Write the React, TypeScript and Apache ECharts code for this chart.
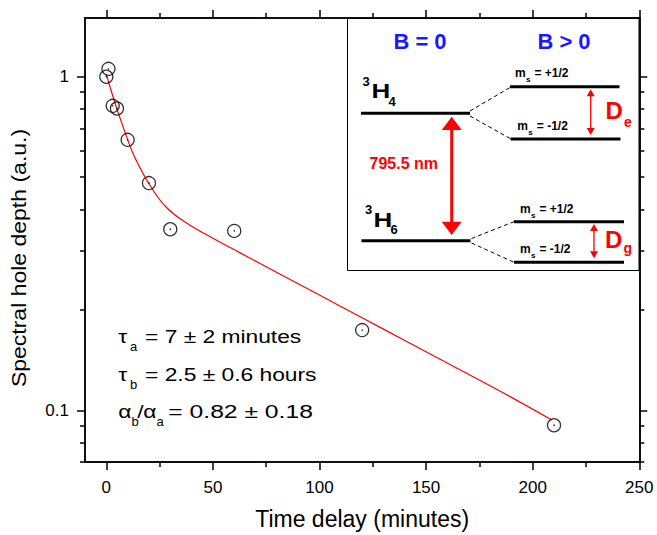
import React, { useEffect, useRef } from 'react';
import * as echarts from 'echarts';

// ---- data ----
const timeMin = [0, 1, 3, 5, 10, 20, 30, 60, 120, 210];
const depth = [1.0, 1.056, 0.818, 0.803, 0.647, 0.48, 0.349, 0.345, 0.174, 0.0902];

const fitTime = [0, 2, 5, 10, 13, 20, 28, 38, 50, 63, 80, 100, 120, 140, 163, 185, 209];
const fitDepth = [1.02, 0.92, 0.8, 0.648, 0.58, 0.478, 0.407, 0.363, 0.328, 0.296, 0.259, 0.2216, 0.1894, 0.162, 0.1353, 0.1139, 0.0936];

const xMajorTicks = [0, 50, 100, 150, 200, 250];
const xMinorTicks = [25, 75, 125, 175, 225];
const yMajorTicks = [0.1, 1];
const yMinorTicks = [0.07, 0.08, 0.09, 0.2, 0.3, 0.4, 0.5, 0.6, 0.7, 0.8, 0.9];

const X_MIN = -10;
const X_MAX = 250;
const Y_MIN = 0.07;
const Y_MAX = 1.5;

const FONT = 'Liberation Sans, Arial, Helvetica, sans-serif';
const BLACK = '#000';
const RED = '#ff0000';
const BLUE = '#1a1aff';

function xAxisDef(position: string, ticks: number[], len: number, withLabels: boolean, extra: any = {}) {
  return {
    type: 'value',
    min: X_MIN,
    max: X_MAX,
    position,
    axisLine: { show: true, onZero: false, lineStyle: { color: BLACK, width: 1.5 } },
    axisTick: { show: true, inside: false, length: len, customValues: ticks, lineStyle: { color: BLACK, width: 1.5 } },
    axisLabel: withLabels
      ? { show: true, customValues: ticks, color: BLACK, fontSize: 17, fontFamily: FONT, margin: 17 }
      : { show: false },
    splitLine: { show: false },
    ...extra,
  };
}

function yAxisDef(position: string, ticks: number[], len: number, withLabels: boolean) {
  return {
    type: 'log',
    logBase: 10,
    min: Y_MIN,
    max: Y_MAX,
    position,
    axisLine: { show: true, onZero: false, lineStyle: { color: BLACK, width: 1.5 } },
    axisTick: { show: true, inside: false, length: len, customValues: ticks, lineStyle: { color: BLACK, width: 1.5 } },
    axisLabel: withLabels
      ? {
          show: true,
          customValues: ticks,
          color: BLACK,
          fontSize: 17,
          fontFamily: FONT,
          margin: 16,
          formatter: (v: number) => (v < 0.5 ? '0.1' : '1'),
        }
      : { show: false },
    splitLine: { show: false },
    minorTick: { show: false },
  };
}

function txt(x: number, y: number, text: string, size: number, color: string, bold: boolean, opts: any = {}) {
  return {
    type: 'text',
    x,
    y,
    z: 100,
    scaleX: opts.scaleX ?? 1,
    rotation: opts.rotation ?? 0,
    style: {
      text,
      fill: color,
      fontSize: size,
      fontFamily: FONT,
      fontWeight: bold ? 'bold' : 'normal',
      align: opts.align ?? 'left',
      verticalAlign: 'middle',
    },
  };
}

function hline(x1: number, x2: number, y: number, w = 3) {
  return {
    type: 'line',
    z: 100,
    shape: { x1, y1: y, x2, y2: y },
    style: { stroke: BLACK, lineWidth: w },
  };
}

function dashed(x1: number, y1: number, x2: number, y2: number) {
  return {
    type: 'line',
    z: 100,
    shape: { x1, y1, x2, y2 },
    style: { stroke: BLACK, lineWidth: 1, lineDash: [4, 3] },
  };
}

function doubleArrow(x: number, yTop: number, yBot: number, headH: number, headW: number, lw: number) {
  return [
    {
      type: 'line',
      z: 100,
      shape: { x1: x, y1: yTop + headH - 1, x2: x, y2: yBot - headH + 1 },
      style: { stroke: RED, lineWidth: lw },
    },
    {
      type: 'polygon',
      z: 100,
      shape: { points: [[x - headW, yTop + headH], [x + headW, yTop + headH], [x, yTop]] },
      style: { fill: RED },
    },
    {
      type: 'polygon',
      z: 100,
      shape: { points: [[x - headW, yBot - headH], [x + headW, yBot - headH], [x, yBot]] },
      style: { fill: RED },
    },
  ];
}

function msLabel(x: number, baseline: number, val: string) {
  return [
    txt(x, baseline - 4.2, 'm', 12, BLACK, true),
    txt(x + 11, baseline + 2.5, 's', 8, BLACK, true),
    txt(x + 19.5, baseline - 4.2, '= ' + val, 12, BLACK, true),
  ];
}

export default function App() {
  const ref = useRef<HTMLDivElement>(null);

  useEffect(() => {
    document.body.style.margin = '0';
    if (!ref.current) return;
    const chart = echarts.init(ref.current, undefined, { renderer: 'svg' });

    const scatterData = timeMin.map((t, i) => [t, depth[i]]);
    const fitData = fitTime.map((t, i) => [t, fitDepth[i]]);

    const annScale = 1.2;
    const graphic: any[] = [
      // inset box
      {
        type: 'rect',
        z: 99,
        shape: { x: 347.5, y: 18.5, width: 291.5, height: 252 },
        style: { fill: '#fff', stroke: BLACK, lineWidth: 1 },
      },
      txt(420, 41.5, 'B = 0', 22, BLUE, true, { align: 'center' }),
      txt(564, 41.5, 'B > 0', 22, BLUE, true, { align: 'center' }),
      // 3H4
      txt(362.5, 81.5, '3', 13, BLACK, true),
      txt(371.5, 91.3, 'H', 20, BLACK, true, { scaleX: 1.3 }),
      txt(388.5, 101.5, '4', 13, BLACK, true),
      // 3H6
      txt(365, 209.5, '3', 13, BLACK, true),
      txt(373.5, 220.3, 'H', 20, BLACK, true, { scaleX: 1.3 }),
      txt(390.5, 229.5, '6', 13, BLACK, true),
      // levels
      hline(361, 470, 113.3),
      hline(361.5, 470.5, 240.7),
      hline(510, 619.5, 86.7),
      hline(510.5, 620.5, 139),
      hline(514, 624, 221.7),
      hline(514, 624, 262.3),
      dashed(470, 111, 510, 87.5),
      dashed(470, 116, 511, 139),
      dashed(471.5, 238.5, 514, 221.7),
      dashed(471.5, 243, 514, 262.3),
      ...doubleArrow(451.7, 116.7, 235, 13.3, 10, 3),
      txt(403.8, 163.3, '795.5 nm', 16, RED, true, { align: 'center' }),
      ...doubleArrow(590.7, 89.3, 135, 7, 4, 1.3),
      ...doubleArrow(594, 224, 258.3, 7, 4, 1.3),
      ...msLabel(515, 76.7, '+1/2'),
      ...msLabel(517.3, 130, '-1/2'),
      ...msLabel(520, 213.3, '+1/2'),
      ...msLabel(520, 253.3, '-1/2'),
      txt(605.5, 110.6, 'D', 24, RED, true),
      txt(624, 121.5, 'e', 14, RED, true),
      txt(605, 239.9, 'D', 24, RED, true),
      txt(623.5, 248.4, 'g', 14, RED, true),
      // annotations
      txt(118.3, 336.6, 'τ', 19, BLACK, false, { scaleX: annScale }),
      txt(130, 346.5, 'a', 13, BLACK, false),
      txt(145, 336.6, '= 7 ± 2 minutes', 19, BLACK, false, { scaleX: annScale }),
      txt(118.3, 374.3, 'τ', 19, BLACK, false, { scaleX: annScale }),
      txt(130, 384, 'b', 13, BLACK, false),
      txt(145, 374.3, '= 2.5 ± 0.6 hours', 19, BLACK, false, { scaleX: annScale }),
      txt(118.3, 411.6, 'α', 19, BLACK, false, { scaleX: annScale }),
      txt(131.5, 421, 'b', 13, BLACK, false),
      txt(137.3, 411.6, '/', 19, BLACK, false, { scaleX: annScale }),
      txt(143.3, 411.6, 'α', 19, BLACK, false, { scaleX: annScale }),
      txt(156.5, 421, 'a', 13, BLACK, false),
      txt(168.3, 411.6, '= 0.82 ± 0.18', 19, BLACK, false, { scaleX: 1.3 }),
      // y axis title
      txt(19, 258, 'Spectral hole depth (a.u.)', 20, BLACK, false, {
        align: 'center',
        rotation: Math.PI / 2,
        scaleX: 1.15,
      }),
    ];

    chart.setOption({
      animation: false,
      backgroundColor: '#fff',
      grid: { left: 85, top: 18, right: 17.7, bottom: 70.7, containLabel: false },
      xAxis: [
        xAxisDef('bottom', xMajorTicks, 8, true, {
          name: 'Time delay (minutes)',
          nameLocation: 'middle',
          nameGap: 45,
          nameTextStyle: { color: BLACK, fontSize: 23, fontFamily: FONT },
        }),
        xAxisDef('bottom', xMinorTicks, 5, false),
        xAxisDef('top', xMajorTicks, 8, false),
        xAxisDef('top', xMinorTicks, 5, false),
      ],
      yAxis: [
        yAxisDef('left', yMajorTicks, 8, true),
        yAxisDef('left', yMinorTicks, 5, false),
        yAxisDef('right', yMajorTicks, 8, false),
        yAxisDef('right', yMinorTicks, 5, false),
      ],
      series: [
        {
          type: 'line',
          name: 'fit',
          xAxisIndex: 0,
          yAxisIndex: 0,
          data: fitData,
          smooth: 0.4,
          showSymbol: false,
          symbol: 'none',
          lineStyle: { color: RED, width: 1.2 },
          z: 3,
        },
        {
          type: 'scatter',
          name: 'data',
          xAxisIndex: 0,
          yAxisIndex: 0,
          data: scatterData,
          symbol: 'circle',
          symbolSize: 13,
          itemStyle: { color: 'rgba(0,0,0,0)', borderColor: BLACK, borderWidth: 1.3 },
          z: 4,
        },
        {
          type: 'scatter',
          name: 'centre',
          xAxisIndex: 0,
          yAxisIndex: 0,
          data: scatterData,
          symbol: 'circle',
          symbolSize: 1.6,
          itemStyle: { color: BLACK },
          z: 5,
        },
      ],
      graphic,
    });

    return () => chart.dispose();
  }, []);

  return <div ref={ref} style={{ width: 657, height: 535 }} />;
}
